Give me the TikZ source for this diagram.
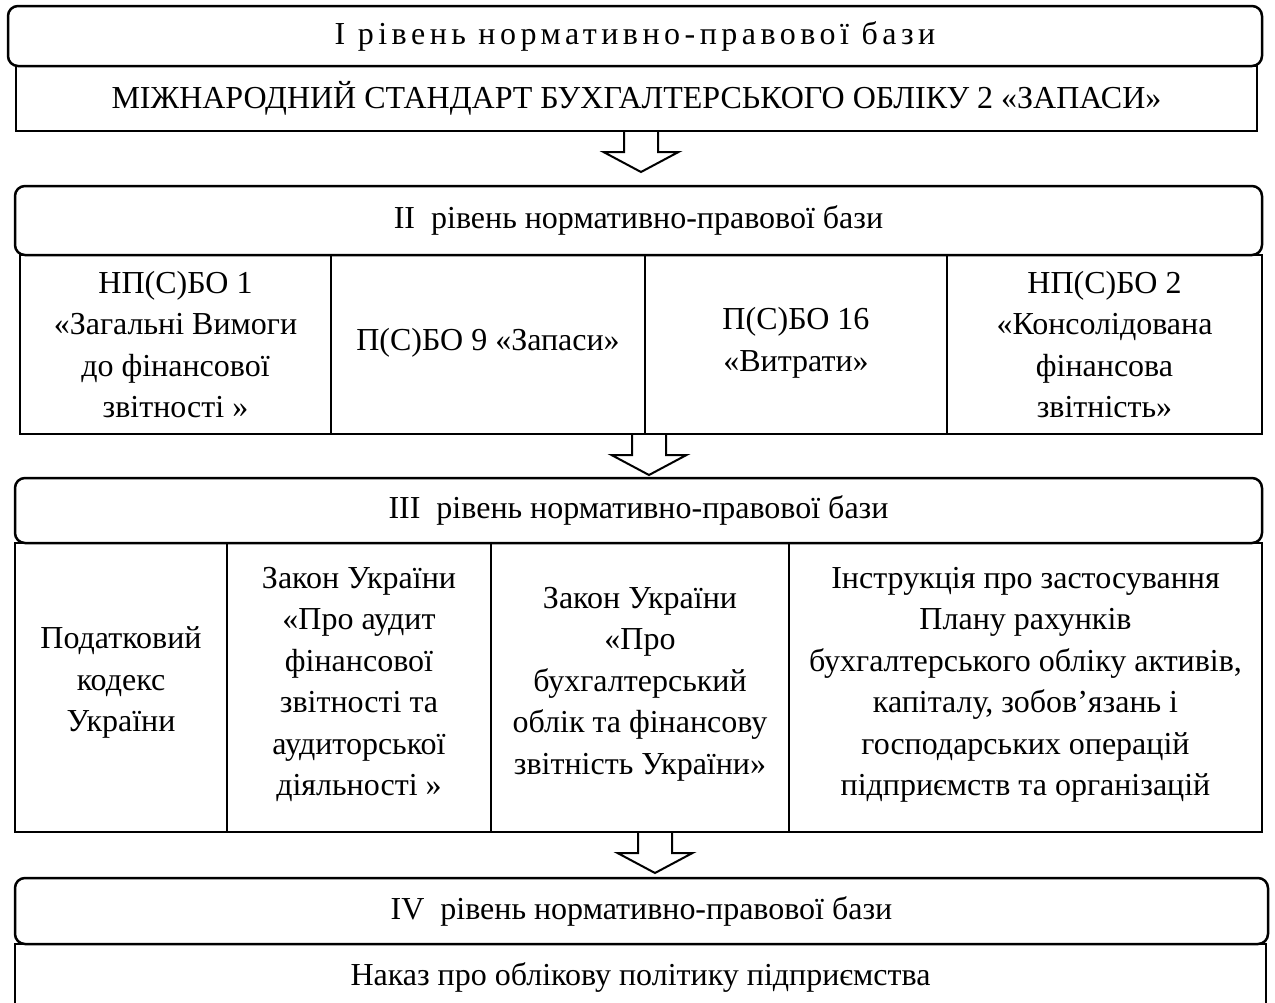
\documentclass[tikz,border=0pt]{standalone}
\usepackage{fontspec}
\setmainfont{Liberation Serif}
\newfontfamily\spacedfont[LetterSpace=14]{Liberation Serif}
\begin{document}
\begin{tikzpicture}[x=1pt,y=-1pt,
  every node/.style={inner sep=0pt, outer sep=0pt, align=center,
    font=\fontsize{32}{41.5}\selectfont},
  rbox/.style={draw, line width=2.5pt, rounded corners=10pt},
  sbox/.style={draw, line width=2.5pt},
  downarrow/.pic={\draw[line width=2pt, line join=miter]
    (-17,0) -- (-17,21) -- (-37.5,21) -- (0,41) -- (37.5,21) -- (17,21) -- (17,0);}
]
\useasboundingbox (0,0) rectangle (1275,1002);
\fill[white] (0,0) rectangle (1275,1002);

% Level I
\node[rbox, minimum width=1254pt, minimum height=60pt] (b1) at (635,36) {\spacedfont\fontsize{32}{41.5}\selectfont І рівень нормативно-правової бази};
\node[sbox, minimum width=1241pt, minimum height=65pt] (r1) at (636.5,98.5) {МІЖНАРОДНИЙ СТАНДАРТ БУХГАЛТЕРСЬКОГО ОБЛІКУ 2 «ЗАПАСИ»};
\coordinate (a1) at (641,131);
\pic at (a1) {downarrow};

% Level II
\node[rbox, minimum width=1247pt, minimum height=69pt] (b2) at (638.5,220.5) {ІІ\ \ рівень нормативно-правової бази};
\node[sbox, minimum width=311pt, minimum height=179pt] (c1) at (175.5,344.5) {НП(С)БО 1\\«Загальні Вимоги\\до фінансової\\звітності »};
\node[sbox, minimum width=314pt, minimum height=179pt] (c2) at (488,344.5) {П(С)БО 9 «Запаси»\rule[-10pt]{0pt}{1pt}};
\node[sbox, minimum width=302pt, minimum height=179pt] (c3) at (796,344.5) {П(С)БО 16\\«Витрати»\rule[-10pt]{0pt}{1pt}};
\node[sbox, minimum width=315pt, minimum height=179pt] (c4) at (1104.5,344.5) {НП(С)БО 2\\«Консолідована\\фінансова\\звітність»};
\coordinate (a2) at (649,434);
\pic at (a2) {downarrow};

% Level III
\node[rbox, minimum width=1247pt, minimum height=65pt] (b3) at (638.5,510.5) {ІІІ\ \ рівень нормативно-правової бази};
\node[sbox, minimum width=212pt, minimum height=289pt] (d1) at (121,687.5) {Податковий\\кодекс\\України\rule[-16pt]{0pt}{1pt}};
\node[sbox, minimum width=264pt, minimum height=289pt] (d2) at (359,687.5) {Закон України\\«Про аудит\\фінансової\\звітності та\\аудиторської\\діяльності »\rule[-12pt]{0pt}{1pt}};
\node[sbox, minimum width=298pt, minimum height=289pt] (d3) at (640,687.5) {Закон України\\«Про\\бухгалтерський\\облік та фінансову\\звітність України»\rule[-14pt]{0pt}{1pt}};
\node[sbox, minimum width=473pt, minimum height=289pt] (d4) at (1025.5,687.5) {Інструкція про застосування\\Плану рахунків\\бухгалтерського обліку активів,\\капіталу, зобов’язань і\\господарських операцій\\підприємств та організацій\rule[-12pt]{0pt}{1pt}};
\coordinate (a3) at (655,832);
\pic at (a3) {downarrow};

% Level IV
\node[rbox, minimum width=1253pt, minimum height=66pt] (b4) at (641.5,911) {IV\ \ рівень нормативно-правової бази};
\node[sbox, minimum width=1251pt, minimum height=66pt] (r4) at (640.5,977) {Наказ про облікову політику підприємства};
\end{tikzpicture}
\end{document}
